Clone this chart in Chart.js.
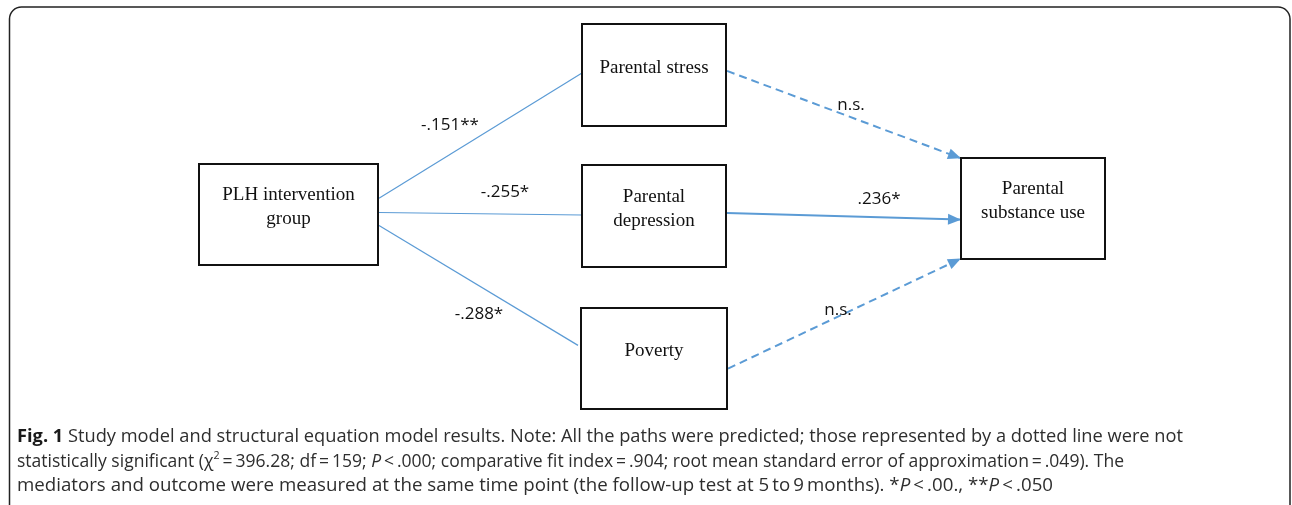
<!DOCTYPE html>
<html>
<head>
<meta charset="utf-8">
<script src="https://cdn.jsdelivr.net/npm/chart.js@4.4.1/dist/chart.umd.min.js"></script>
<style>
  body { margin: 0; background: #fff; }
  #wrap { width: 1292px; height: 505px; }
</style>
</head>
<body>
<div id="wrap"><canvas id="pathChart" width="1292" height="505"></canvas></div>
<script>
// model data
const nodeNames = [
    ['PLH intervention', 'group'],
    ['Parental stress'],
    ['Parental', 'depression'],
    ['Poverty'],
    ['Parental', 'substance use']
];
const pathFrom = [0, 0, 0, 1, 2, 3];
const pathTo = [1, 2, 3, 4, 4, 4];
const pathCoef = ['-.151**', '-.255*', '-.288*', 'n.s.', '.236*', 'n.s.'];
const pathSignificant = [true, true, true, false, true, false];

const T = '\u2009';
const captionLines = [
    [['b', 'Fig. 1'], ['n', ' Study model and structural equation model results. Note: All the paths were predicted; those represented by a dotted line were not']],
    [['n', 'statistically significant (\u03c7'], ['s', '2'], ['n', T + '=' + T + '396.28; df' + T + '=' + T + '159; '], ['i', 'P'], ['n', T + '<' + T + '.000; comparative fit index' + T + '=' + T + '.904; root mean standard error of approximation' + T + '=' + T + '.049). The']],
    [['n', 'mediators and outcome were measured at the same time point (the follow-up test at 5' + T + 'to' + T + '9' + T + 'months). *'], ['i', 'P'], ['n', T + '<' + T + '.00., **'], ['i', 'P'], ['n', T + '<' + T + '.050']]
];

// layout (pixels of the 1292x505 figure)
const nodeBoxes = [
    [199, 164, 378, 265],
    [582, 24, 726, 126],
    [582, 165, 726, 267],
    [581, 308, 727, 409],
    [961, 158, 1105, 259]
];
// where each path leaves / enters a box, as a fraction of box height
const fromAnchor = [0.34, 0.48, 0.61, 0.46, 0.47, 0.6];
const toAnchor = [0.48, 0.49, 0.37, 0.0, 0.61, 1.0];
const toInset = [0, 0, 3, 1, 1, 1];
const labelPos = [[450, 125], [505, 192], [479, 314], [851, 105], [879, 199], [838, 310]];
const captionWidth = [1166, 1107, 1036];
const blue = '#5b9bd5';

const datasets = pathCoef.map((c, i) => {
    const a = nodeBoxes[pathFrom[i]], b = nodeBoxes[pathTo[i]];
    const right = pathFrom[i] > 0;
    return {
        label: c,
        data: [
            { x: a[2] + 1, y: a[1] + fromAnchor[i] * (a[3] - a[1]) },
            { x: b[0] - toInset[i], y: b[1] + toAnchor[i] * (b[3] - b[1]) }
        ],
        showLine: true,
        borderColor: blue,
        borderWidth: right ? 2 : 1.2,
        borderDash: pathSignificant[i] ? [] : [8, 5],
        pointRadius: 0,
        fill: false,
        arrow: right
    };
});

const diagramPlugin = {
    id: 'diagram',
    beforeDatasetsDraw(chart) {
        const ctx = chart.ctx;
        const { x, y } = chart.scales;
        // outer rounded frame
        ctx.save();
        ctx.strokeStyle = '#222';
        ctx.lineWidth = 1.5;
        ctx.beginPath();
        ctx.roundRect(x.getPixelForValue(9.5), y.getPixelForValue(7), x.getPixelForValue(1290) - x.getPixelForValue(9.5), 540, 12);
        ctx.stroke();
        ctx.restore();
    },
    afterDatasetsDraw(chart) {
        const ctx = chart.ctx;
        const { x, y } = chart.scales;
        ctx.save();
        // arrow heads
        chart.data.datasets.forEach((ds, i) => {
            if (!ds.arrow) return;
            const pts = chart.getDatasetMeta(i).data;
            const p0 = pts[0], p1 = pts[1];
            const ang = Math.atan2(p1.y - p0.y, p1.x - p0.x);
            ctx.save();
            ctx.translate(p1.x, p1.y);
            ctx.rotate(ang);
            ctx.fillStyle = blue;
            ctx.beginPath();
            ctx.moveTo(1, 0);
            ctx.lineTo(-12, -5.5);
            ctx.lineTo(-12, 5.5);
            ctx.closePath();
            ctx.fill();
            ctx.restore();
        });
        // boxes
        nodeBoxes.forEach((b, i) => {
            const x0 = x.getPixelForValue(b[0]), x1 = x.getPixelForValue(b[2]);
            const y0 = y.getPixelForValue(b[1]), y1 = y.getPixelForValue(b[3]);
            ctx.fillStyle = '#fff';
            ctx.fillRect(x0, y0, x1 - x0, y1 - y0);
            ctx.strokeStyle = '#111';
            ctx.lineWidth = 2;
            ctx.strokeRect(x0, y0, x1 - x0, y1 - y0);
            ctx.fillStyle = '#111';
            ctx.font = '19px "Liberation Serif", "Times New Roman", serif';
            ctx.textAlign = 'center';
            ctx.textBaseline = 'middle';
            const lines = nodeNames[i];
            const cy = (y0 + y1) / 2 - 7;
            lines.forEach((t, k) => {
                ctx.fillText(t, (x0 + x1) / 2, cy + (k - (lines.length - 1) / 2) * 24);
            });
        });
        // coefficients
        ctx.font = '17px "Open Sans", sans-serif';
        ctx.fillStyle = '#111';
        ctx.textAlign = 'center';
        ctx.textBaseline = 'middle';
        pathCoef.forEach((c, i) => {
            ctx.fillText(c, x.getPixelForValue(labelPos[i][0]), y.getPixelForValue(labelPos[i][1]));
        });
        ctx.restore();
    },
    afterDraw(chart) {
        const ctx = chart.ctx;
        const fam = '"Open Sans", sans-serif';
        const fonts = {
            n: '18px ' + fam,
            b: 'bold 18px ' + fam,
            i: 'italic 18px ' + fam,
            s: '11px ' + fam
        };
        const widthOf = line => line.reduce((w, seg) => {
            ctx.font = fonts[seg[0]];
            return w + ctx.measureText(seg[1]).width;
        }, 0);
        ctx.save();
        ctx.textBaseline = 'alphabetic';
        ctx.textAlign = 'left';
        const baseY = [442, 467, 491];
        captionLines.forEach((line, k) => {
            const sx = captionWidth[k] / widthOf(line);
            ctx.save();
            ctx.translate(17, baseY[k]);
            ctx.scale(sx, 1);
            let cx = 0;
            line.forEach(seg => {
                ctx.font = fonts[seg[0]];
                ctx.fillStyle = seg[0] === 'b' ? '#1a1a1a' : '#2e2e2e';
                ctx.fillText(seg[1], cx, seg[0] === 's' ? -8 : 0);
                cx += ctx.measureText(seg[1]).width;
            });
            ctx.restore();
        });
        ctx.restore();
    }
};

new Chart(document.getElementById('pathChart'), {
    type: 'scatter',
    data: { datasets: datasets },
    options: {
        responsive: false,
        devicePixelRatio: 1,
        animation: false,
        layout: { padding: 0 },
        scales: {
            x: { type: 'linear', min: 0, max: 1292, display: false },
            y: { type: 'linear', min: 0, max: 505, reverse: true, display: false }
        },
        plugins: {
            legend: { display: false },
            tooltip: { enabled: false }
        }
    },
    plugins: [diagramPlugin]
});
</script>
</body>
</html>
